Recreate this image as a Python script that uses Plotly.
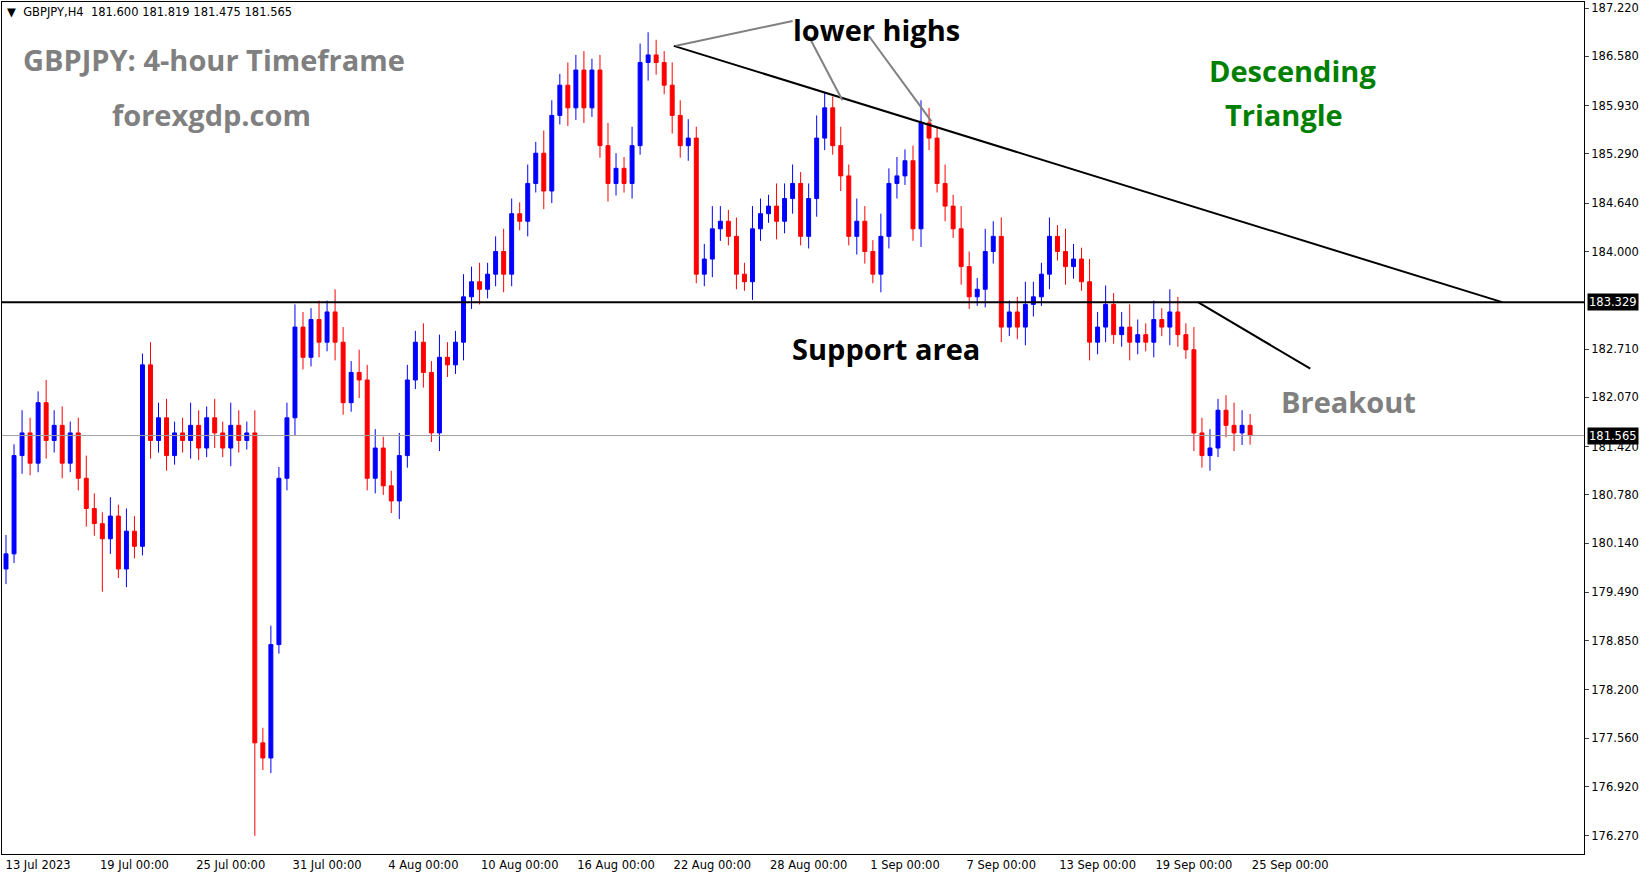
import plotly.graph_objects as go

closes = [180.0,181.3,181.6,181.2,182.0,181.5,181.7,181.2,181.6,181.0,180.6,180.4,
180.2,180.5,179.8,180.3,180.1,182.5,181.5,181.8,181.3,181.6,181.5,181.7,
181.4,181.8,181.6,181.4,181.7,181.5,181.6,177.5,177.3,178.8,181.0,181.8,
183.0,182.6,183.1,182.8,183.2,182.8,182.0,182.4,182.3,181.0,181.4,180.9,
180.7,181.3,182.3,182.8,182.4,181.6,182.6,182.5,182.8,183.4,183.6,183.5,
183.7,184.0,183.7,184.5,184.4,184.9,185.3,184.8,185.8,186.2,185.9,186.4,
185.9,186.4,185.4,184.9,185.1,184.9,185.4,186.5,186.6,186.5,186.2,185.8,
185.4,185.5,183.7,183.9,184.3,184.4,184.2,183.7,183.6,184.3,184.5,184.6,
184.4,184.7,184.9,184.2,184.7,185.5,185.9,185.4,185.0,184.2,184.4,184.0,
183.7,184.2,184.9,185.0,185.2,184.3,185.7,185.5,184.9,184.6,184.3,183.8,
183.4,183.5,184.0,184.2,183.0,183.2,183.0,183.3,183.4,183.7,184.2,184.0,
183.8,183.9,183.6,182.8,183.0,183.3,182.9,183.0,182.8,182.9,182.8,183.1,
183.0,183.2,182.9,182.7,181.6,181.3,181.4,181.9,181.7,181.6,181.7,181.565]
date_labels = ["13 Jul 2023","19 Jul 00:00","25 Jul 00:00","31 Jul 00:00","4 Aug 00:00",
"10 Aug 00:00","16 Aug 00:00","22 Aug 00:00","28 Aug 00:00","1 Sep 00:00",
"7 Sep 00:00","13 Sep 00:00","19 Sep 00:00","25 Sep 00:00"]
price_ticks = [187.220,186.580,185.930,185.290,184.640,184.000,182.710,182.070,
181.420,180.780,180.140,179.490,178.850,178.200,177.560,176.920,176.270]
support = 183.329
last = 181.565
wick = [0.25,0.15,0.3,0.2,0.15,0.3,0.2,0.25,0.15,0.2,0.3,0.2,0.15]

opens = [179.8] + closes[:-1]
highs, lows = [], []
for i, (o, c) in enumerate(zip(opens, closes)):
    w = wick[i % len(wick)]
    highs.append(max(o, c) + w)
    lows.append(min(o, c) - w * 0.8)
lows[31] = 176.27; highs[79] = 186.75; lows[12] = 179.5
idx = list(range(len(closes)))

fig = go.Figure(go.Candlestick(x=idx, open=opens, high=highs, low=lows, close=closes,
    increasing=dict(line=dict(color="#0000ff", width=1), fillcolor="#0000ff"),
    decreasing=dict(line=dict(color="#ff0000", width=1), fillcolor="#ff0000"),
    whiskerwidth=0, showlegend=False))

fig.add_hline(y=support, line=dict(color="black", width=2))
fig.add_hline(y=last, line=dict(color="#a0a0a0", width=1))
fig.add_shape(type="line", x0=83.2, y0=186.72, x1=186.4, y1=183.33, line=dict(color="black", width=2))
fig.add_shape(type="line", x0=148.5, y0=183.33, x1=162.5, y1=182.45, line=dict(color="black", width=2))
fig.add_shape(type="line", x0=83.5, y0=186.72, x1=98, y1=187.05, line=dict(color="gray", width=2))
fig.add_shape(type="line", x0=100, y0=186.85, x1=104.2, y1=186.0, line=dict(color="gray", width=2))
fig.add_shape(type="line", x0=107.5, y0=186.85, x1=115.3, y1=185.72, line=dict(color="gray", width=2))

W, H = 1505.0, 816.0
def px(xp, yp, t, color, size, xa="left", fam="Open Sans"):
    fig.add_annotation(x=(xp-2)/W, y=1-(yp-2)/H, xref="paper", yref="paper", text=t, showarrow=False,
        font=dict(family=fam, size=size, color=color), xanchor=xa, yanchor="middle")
px(20, 57, "<b>GBPJPY: 4-hour Timeframe</b>", "gray", 29)
px(105, 110, "<b>forexgdp.com</b>", "gray", 29)
px(753, 28, "<b>lower highs</b>", "black", 29)
px(1230, 68, "<b>Descending</b>", "green", 29, "center")
px(1222, 110, "<b>Triangle</b>", "green", 29, "center")
px(752, 334, "<b>Support area</b>", "black", 29)
px(1217, 385, "<b>Breakout</b>", "gray", 29)
px(5, 12, "▼  GBPJPY,H4  181.600 181.819 181.475 181.565", "black", 11.5, fam="DejaVu Sans")

for v in [support, last]:
    fig.add_annotation(x=1, y=v, xref="paper", yref="y", text=f"{v:.3f}", showarrow=False,
        xanchor="left", font=dict(family="DejaVu Sans", size=11.5, color="white"), bgcolor="black",
        borderpad=1, xshift=3)

fig.update_layout(width=1649, height=884, plot_bgcolor="white", paper_bgcolor="white",
    margin=dict(l=2, r=65, t=2, b=30),
    xaxis=dict(range=[-0.5, 196.6], rangeslider=dict(visible=False), showgrid=False, automargin=False,
        tickvals=[i*12 + 4 for i in range(len(date_labels))], ticktext=date_labels,
        tickfont=dict(family="DejaVu Sans", size=11.5, color="black"), ticks="",
        showline=True, linecolor="black", mirror=True, zeroline=False),
    yaxis=dict(range=[176.03, 187.30], side="right", showgrid=False, automargin=False, tickvals=price_ticks,
        ticktext=[f"{v:.3f}" for v in price_ticks], ticks="outside", ticklen=4,
        tickfont=dict(family="DejaVu Sans", size=11.5, color="black"),
        showline=True, linecolor="black", mirror=True, zeroline=False))
fig.write_html("out.html", config={"displayModeBar": False},
               post_script="document.body.style.margin='0';")
